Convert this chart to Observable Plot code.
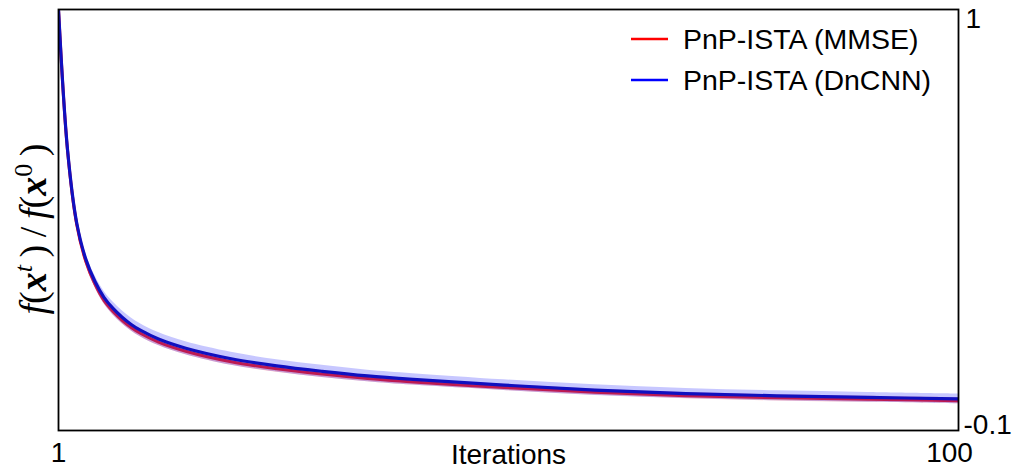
<!DOCTYPE html>
<html>
<head>
<meta charset="utf-8">
<script src="https://cdn.jsdelivr.net/npm/d3@7"></script>
<script src="https://cdn.jsdelivr.net/npm/@observablehq/plot@0.6"></script>
<style>
  html, body { margin: 0; padding: 0; background: #fff; }
  #chart svg { display: block; }
</style>
</head>
<body>
<div id="chart"></div>
<script>
// Iteration samples
const iterations = [1, 2, 3, 4, 5, 6, 7, 8, 9, 10, 12, 15, 20, 25, 30, 35, 40, 50, 60, 70, 80, 90, 100];
// PnP-ISTA (DnCNN): normalized objective f(x^t)/f(x^0)
const dncnn = [1.0, 0.632, 0.443, 0.348, 0.290, 0.248, 0.219, 0.196, 0.177, 0.162, 0.139, 0.115, 0.0875, 0.0688, 0.0546, 0.0426, 0.0336, 0.0186, 0.0056, -0.0034, -0.0094, -0.0134, -0.0174];
const dncnnSpread = [0, 0.006, 0.010, 0.013, 0.015, 0.016, 0.017, 0.017, 0.017, 0.017, 0.017, 0.017, 0.017, 0.016, 0.016, 0.015, 0.015, 0.014, 0.014, 0.013, 0.013, 0.013, 0.013];
// PnP-ISTA (MMSE)
const mmse = [1.0, 0.630, 0.439, 0.342, 0.283, 0.240, 0.211, 0.188, 0.169, 0.154, 0.131, 0.107, 0.0795, 0.0613, 0.0474, 0.0356, 0.0266, 0.0126, -0.0002, -0.0090, -0.0146, -0.0184, -0.0222];
const mmseSpread = [0, 0.004, 0.007, 0.008, 0.009, 0.009, 0.009, 0.009, 0.009, 0.009, 0.009, 0.009, 0.009, 0.009, 0.009, 0.008, 0.008, 0.008, 0.008, 0.008, 0.008, 0.008, 0.008];
// Axis ticks and labels
const yTickTop = 1, yTickBottom = -0.1;
const xTickFirst = 1, xTickLast = 100;
const seriesNames = ["PnP-ISTA (MMSE)", "PnP-ISTA (DnCNN)"];
const seriesColors = ["#ff0000", "#0000ff"];

const rows = iterations.map((it, i) => ({
  it,
  mmse: mmse[i], mmseLo: mmse[i] - mmseSpread[i], mmseHi: mmse[i] + mmseSpread[i],
  dncnn: dncnn[i], dncnnLo: dncnn[i] - dncnnSpread[i], dncnnHi: dncnn[i] + dncnnSpread[i]
}));

const font = "'Liberation Sans', Arial, Helvetica, sans-serif";
const curve = "catmull-rom";

const plot = Plot.plot({
  width: 1018,
  height: 470,
  marginLeft: 58,
  marginRight: 60,
  marginTop: 9,
  marginBottom: 40,
  style: { fontFamily: font, background: "#fff", color: "#000" },
  x: { domain: [xTickFirst, xTickLast] },
  y: { domain: [yTickBottom, yTickTop] },
  marks: [
    Plot.areaY(rows, { x: "it", y1: "mmseLo", y2: "mmseHi", fill: "#ff2a2a", fillOpacity: 0.3, curve, clip: true }),
    Plot.lineY(rows, { x: "it", y: "mmse", stroke: "#f00000", strokeWidth: 3, curve, clip: true }),
    Plot.areaY(rows, { x: "it", y1: "dncnnLo", y2: "dncnnHi", fill: "#5050ff", fillOpacity: 0.32, curve, clip: true }),
    Plot.lineY(rows, { x: "it", y: "dncnn", stroke: "#1010c0", strokeWidth: 3.2, curve, clip: true }),
    Plot.frame({ stroke: "#000", strokeWidth: 1.8 }),
    Plot.axisY([yTickTop], { anchor: "right", tickSize: 0, tickPadding: 7, fontSize: 28, dy: 10, label: null, tickFormat: d => String(d) }),
    Plot.axisY([yTickBottom], { anchor: "right", tickSize: 0, tickPadding: 5, fontSize: 28, dy: -5, label: null, tickFormat: d => String(d) }),
    Plot.axisX([xTickFirst], { anchor: "bottom", tickSize: 0, tickPadding: 12, fontSize: 28, label: null, tickFormat: d => String(d) }),
    Plot.axisX([xTickLast], { anchor: "bottom", tickSize: 0, tickPadding: 12, fontSize: 28, dx: -9, label: null, tickFormat: d => String(d) }),
    Plot.text(["Iterations"], { frameAnchor: "bottom", dy: 25, lineAnchor: "middle", fontSize: 28, fill: "#000" })
  ]
});

document.getElementById("chart").appendChild(plot);

const svg = d3.select(plot);

// Legend (top-right, inside the frame)
const legend = svg.append("g");
seriesNames.forEach((name, i) => {
  const y = 39 + i * 41;
  legend.append("line").attr("x1", 631).attr("x2", 668).attr("y1", y).attr("y2", y)
    .attr("stroke", seriesColors[i]).attr("stroke-width", 2.5);
  legend.append("text").attr("x", 683).attr("y", y).attr("dy", "0.36em")
    .attr("text-anchor", "start")
    .attr("font-family", font).attr("font-size", 28.5).attr("fill", "#000").text(name);
});

// Y label: f(x^t)/f(x^0)
const ylab = svg.append("text")
  .attr("transform", "translate(46,229) rotate(-90)")
  .attr("text-anchor", "middle")
  .attr("font-family", "'Liberation Serif', 'DejaVu Serif', serif")
  .attr("font-size", 38)
  .attr("fill", "#000");
const parts = [
  ["f", "italic", "normal", 0], ["(", "normal", "normal", 0],
  ["x", "italic", "bold", 0], ["t", "italic", "normal", 1], ["\u2009)", "normal", "normal", -1],
  ["\u2009/\u2009", "normal", "normal", 0],
  ["f", "italic", "normal", 0], ["(", "normal", "normal", 0],
  ["x", "italic", "bold", 0], ["0", "normal", "normal", 1], ["\u2009)", "normal", "normal", -1]
];
parts.forEach(([t, style, weight, sup]) => {
  const ts = ylab.append("tspan").attr("font-style", style).attr("font-weight", weight).text(t);
  if (sup === 1) ts.attr("dy", -14).attr("font-size", 26);
  if (sup === -1) ts.attr("dy", 14);
});
</script>
</body>
</html>
